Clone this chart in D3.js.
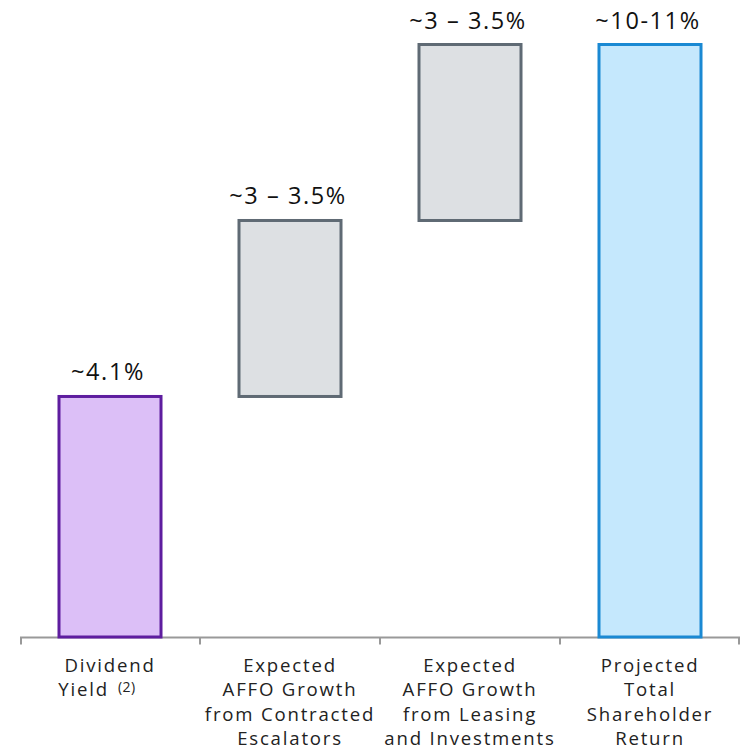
<!DOCTYPE html>
<html>
<head>
<meta charset="utf-8">
<script src="https://cdn.jsdelivr.net/npm/d3@7"></script>
<style>
  html, body { margin: 0; padding: 0; background: #fff; }
  svg { display: block; font-family: "Open Sans", "Noto Sans", sans-serif; }
</style>
</head>
<body>
<svg id="chart" width="740" height="751"></svg>
<script>
// Waterfall steps building up the projected total shareholder return
const categories = ["dividend", "escalators", "leasing", "total"];
const categoryLines = [
  ["Dividend", "Yield"],
  ["Expected", "AFFO Growth", "from Contracted", "Escalators"],
  ["Expected", "AFFO Growth", "from Leasing", "and Investments"],
  ["Projected", "Total", "Shareholder", "Return"]
];
const footnotes = ["(2)", "", "", ""];
const stepValues = [4.1, 3.0, 3.0, 10.1];   // % points for each step
const isTotal = [false, false, false, true];
const valueLabels = ["~4.1%", "~3 \u2013 3.5%", "~3 \u2013 3.5%", "~10-11%"];
const fills = ["#dcbff7", "#dde0e3", "#dde0e3", "#c5e8fd"];
const strokes = ["#5e1d9f", "#5f6a74", "#5f6a74", "#1a89d3"];

// running base/top for each step
let running = 0;
const bars = categories.map((c, i) => {
  let base, top;
  if (isTotal[i]) { base = 0; top = stepValues[i]; }
  else { base = running; top = running + stepValues[i]; running = top; }
  return { key: c, base, top, i };
});

const svg = d3.select("#chart");
const x = d3.scaleBand().domain(categories).range([20, 740]).paddingInner(0).paddingOuter(0);
const y = d3.scaleLinear().domain([0, 10.1]).range([637, 44.5]);
const barW = 102;

// axis baseline with tick marks at band boundaries
const axisY = 637.5;
svg.append("line")
  .attr("x1", 20).attr("x2", 740)
  .attr("y1", axisY).attr("y2", axisY)
  .attr("stroke", "#999").attr("stroke-width", 2);
const bounds = categories.map(c => x(c)).concat([x.range()[1]]);
svg.selectAll(".tick").data(bounds).join("line")
  .attr("class", "tick")
  .attr("x1", d => Math.min(Math.max(d, 21), 739)).attr("x2", d => Math.min(Math.max(d, 21), 739))
  .attr("y1", axisY).attr("y2", axisY + 7)
  .attr("stroke", "#999").attr("stroke-width", 2);

// bars
svg.selectAll(".bar").data(bars).join("rect")
  .attr("class", "bar")
  .attr("x", d => x(d.key) + x.bandwidth() / 2 - barW / 2)
  .attr("width", barW)
  .attr("y", d => y(d.top))
  .attr("height", d => y(d.base) - y(d.top))
  .attr("fill", d => fills[d.i])
  .attr("stroke", d => strokes[d.i])
  .attr("stroke-width", 3);

// value labels above bars
svg.selectAll(".val").data(bars).join("text")
  .attr("class", "val")
  .attr("x", d => x(d.key) + x.bandwidth() / 2 - 2)
  .attr("y", d => y(d.top) - 16)
  .attr("text-anchor", "middle")
  .attr("font-size", 23.5)
  .attr("letter-spacing", 1.6)
  .attr("fill", "#111")
  .text(d => valueLabels[d.i]);

// category labels under the axis
const lineGap = 24.6;
const cat = svg.selectAll(".cat").data(categories).join("text")
  .attr("class", "cat")
  .attr("text-anchor", "middle")
  .attr("font-size", 18.6)
  .attr("letter-spacing", 1.8)
  .attr("fill", "#222");
cat.each(function(c, i) {
  const t = d3.select(this);
  const cx = x(c) + x.bandwidth() / 2;
  categoryLines[i].forEach((line, j) => {
    const ts = t.append("tspan").attr("x", cx).attr("y", 671.5 + j * lineGap).text(line);
    if (j === categoryLines[i].length - 1 && footnotes[i]) {
      ts.attr("dx", -13);
      t.append("tspan").attr("font-size", 14).attr("letter-spacing", 0.5).attr("dx", 9).attr("dy", -4).text(footnotes[i]);
    }
  });
});
</script>
</body>
</html>
